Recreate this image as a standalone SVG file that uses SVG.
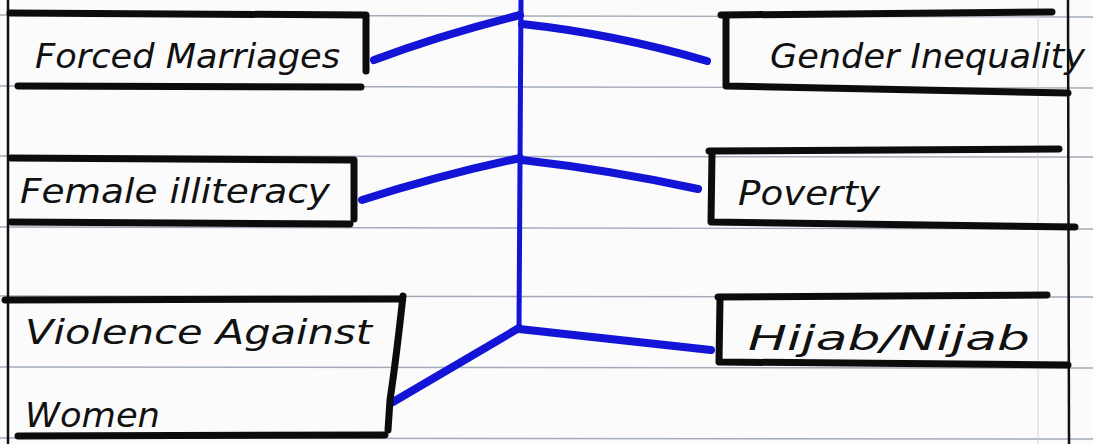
<svg xmlns="http://www.w3.org/2000/svg" width="1093" height="444" viewBox="0 0 1093 444">
<style>
.rule{stroke:#a3abb8;stroke-width:1.4;fill:none}
.margin{stroke:#111;stroke-width:2.5;fill:none}
.box{stroke:#0c0c0c;stroke-width:7;fill:none;stroke-linecap:round;stroke-linejoin:round}
.conn{stroke:#1414d6;stroke-width:8;fill:none;stroke-linecap:round;stroke-linejoin:round}
.trunk{stroke:#1414d6;stroke-width:5;fill:none}
.lbl{font-family:"DejaVu Sans","Liberation Sans",sans-serif;font-style:oblique;font-size:34px;fill:#111}
</style>
<rect width="1093" height="444" fill="#fbfbfb"/>
<g id="paper">
<path class="rule" d="M0 15 L1093 17"/>
<path class="rule" d="M0 86 L1093 88"/>
<path class="rule" d="M0 156 L1093 157"/>
<path class="rule" d="M0 227 L1093 229"/>
<path class="rule" d="M0 296 L1093 297"/>
<path class="rule" d="M0 367 L1093 368"/>
<path class="rule" d="M0 438 L1093 439"/>
<path d="M1038 0 L1038 444" stroke="#d2d5da" stroke-width="1" fill="none"/>
<path class="margin" d="M8 0 L8 444"/>
<path class="margin" d="M1068 0 L1069 444"/>
</g>
<g id="connectors">
<path class="trunk" d="M521 0 L519 330"/>
<path class="conn" d="M374 60 Q440 35 520 15"/>
<path class="conn" d="M522 24 Q615 34 707 61"/>
<path class="conn" d="M362 200 Q440 175 520 158"/>
<path class="conn" d="M522 160 Q610 170 698 189"/>
<path class="conn" d="M393 402 L519 328"/>
<path class="conn" d="M519 329 Q600 338 711 350"/>
</g>
<g id="forced-marriages">
<path class="box" d="M10 13 L366 15 L366 71"/>
<path class="box" d="M18 86 L361 87"/>
<text class="lbl" x="35" y="68" textLength="305" lengthAdjust="spacingAndGlyphs">Forced Marriages</text>
</g>
<g id="female-illiteracy">
<path class="box" d="M11 158 L354 160 L354 219"/>
<path class="box" d="M11 222 L350 224"/>
<text class="lbl" x="20" y="203" textLength="310" lengthAdjust="spacingAndGlyphs">Female illiteracy</text>
</g>
<g id="violence-against-women">
<path class="box" d="M5 300 L399 299"/>
<path class="box" d="M403 296 Q396 360 390 400 L388 430"/>
<path class="box" d="M18 436 L385 435"/>
<text class="lbl" x="25" y="344" textLength="347" lengthAdjust="spacingAndGlyphs">Violence Against</text>
<text class="lbl" x="25" y="427" textLength="135" lengthAdjust="spacingAndGlyphs">Women</text>
</g>
<g id="gender-inequality">
<path class="box" d="M721 15 L1052 12"/>
<path class="box" d="M726 18 L726 86 L1068 93"/>
<text class="lbl" x="770" y="68" textLength="315" lengthAdjust="spacingAndGlyphs">Gender Inequality</text>
</g>
<g id="poverty">
<path class="box" d="M709 151 L1059 149"/>
<path class="box" d="M712 153 L711 222 L1075 227"/>
<text class="lbl" x="738" y="205" textLength="142" lengthAdjust="spacingAndGlyphs">Poverty</text>
</g>
<g id="hijab-nijab">
<path class="box" d="M718 297 L1047 295"/>
<path class="box" d="M720 299 L719 362 L1068 365"/>
<text class="lbl" x="748" y="350" font-size="32" textLength="282" lengthAdjust="spacingAndGlyphs">Hijab/Nijab</text>
</g>
</svg>
